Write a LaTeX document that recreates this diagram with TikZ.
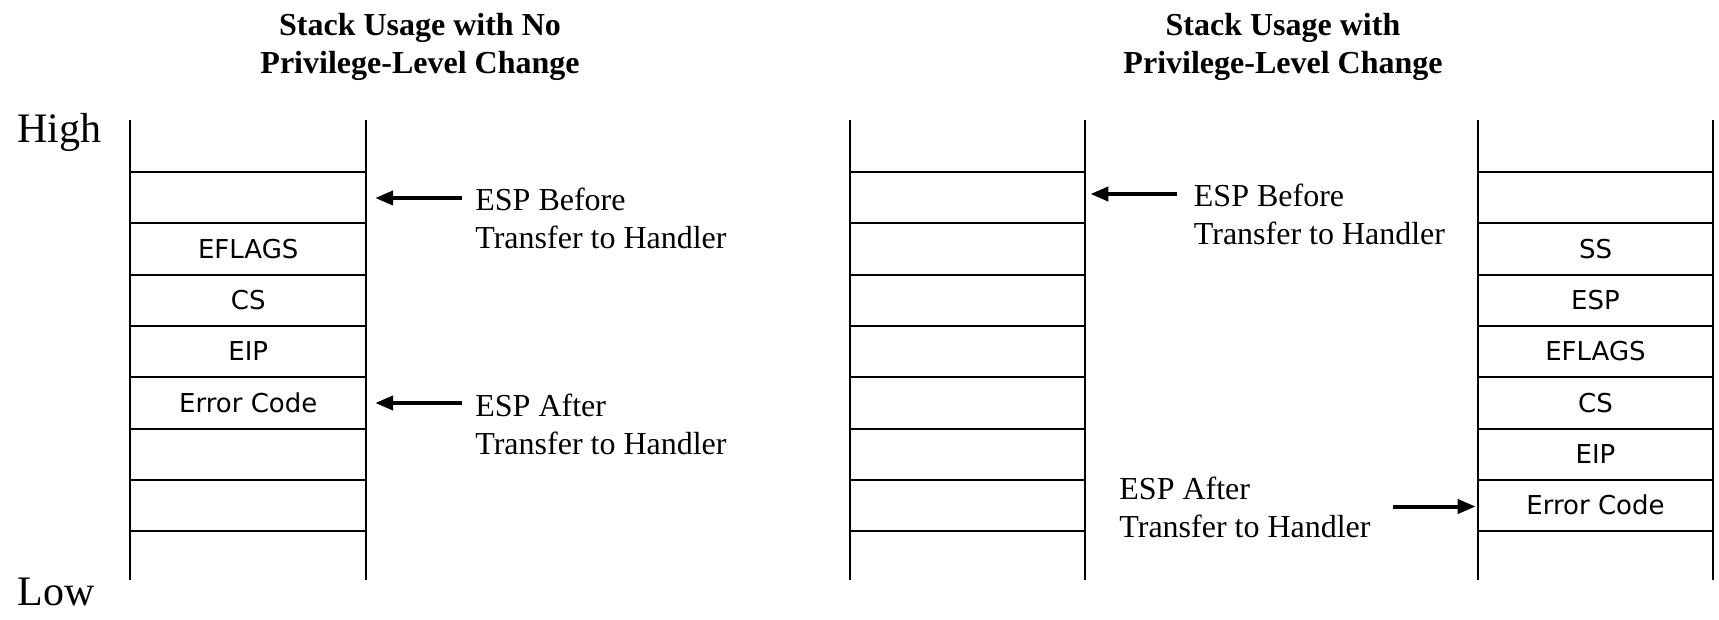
\documentclass[tikz,border=0pt]{standalone}
\usepackage{fontspec}
\setmainfont{Liberation Serif}
\newfontfamily\cellfont{DejaVu Sans}
\usetikzlibrary{arrows.meta}

\tikzset{
  cell/.style={rectangle, inner sep=0pt, minimum width=117.5pt, minimum height=25.65pt,
               font=\cellfont\fontsize{13}{15}\selectfont},
  rule/.style={line width=1pt},
  ptr/.style={line width=2pt, -{Triangle[length=9pt,width=7pt]}},
  title/.style={anchor=base, font=\bfseries\fontsize{16}{19}\selectfont, inner sep=0pt},
  note/.style={anchor=base west, font=\fontsize{16}{19}\selectfont, inner sep=0pt},
  side/.style={anchor=base west, font=\fontsize{21}{25}\selectfont, inner sep=0pt},
}

% draws a stack of nine cells named <prefix>1..<prefix>9 centred at x
\newcommand{\stackcol}[3]{%
  \foreach \i/\t in {#3} {
    \node[cell] (#1\i) at (#2, {171.7+(\i-1.5)*51.3}) {\t};
  }
  \draw[rule] ([yshift=0.15pt]#11.north west) -- ([yshift=1.1pt]#19.south west);
  \draw[rule] ([yshift=0.15pt]#11.north east) -- ([yshift=1.1pt]#19.south east);
  \foreach \i in {1,...,8} {
    \draw[rule] (#1\i.south west) -- (#1\i.south east);
  }
}

\begin{document}
\begin{tikzpicture}[x=0.5pt, y=-0.5pt]
  \useasboundingbox (0,0) rectangle (1719,620);

  % titles
  \node[title] (t1a) at (420,36) {Stack Usage with No};
  \node[title] (t1b) at (420,74) {Privilege-Level Change};
  \node[title] (t2a) at (1283,36) {Stack Usage with};
  \node[title] (t2b) at (1283,74) {Privilege-Level Change};

  % address direction
  \node[side] (high) at (17,143) {High};
  \node[side] (low) at (17,605) {Low};

  % stacks
  \stackcol{L}{248.25}{1/,2/,3/EFLAGS,4/CS,5/EIP,6/Error Code,7/,8/,9/}
  \stackcol{M}{967.5}{1/,2/,3/,4/,5/,6/,7/,8/,9/}
  \stackcol{R}{1595.5}{1/,2/,3/SS,4/ESP,5/EFLAGS,6/CS,7/EIP,8/Error Code,9/}

  % left: stack pointer labels
  \node[note] (lb1) at (475,211) {ESP Before};
  \node[note] (lb2) at (475,249) {Transfer to Handler};
  \node[note] (la1) at (475,416) {ESP After};
  \node[note] (la2) at (475,454) {Transfer to Handler};
  \coordinate (lbt) at (462,198);
  \coordinate (lat) at (462,403);
  \draw[ptr] (lbt) -- ([xshift=4.5pt]L2.east |- lbt);
  \draw[ptr] (lat) -- ([xshift=4.5pt]L6.east |- lat);

  % right: stack pointer labels
  \node[note] (mb1) at (1193.5,207) {ESP Before};
  \node[note] (mb2) at (1193.5,245) {Transfer to Handler};
  \coordinate (mbt) at (1177,194);
  \draw[ptr] (mbt) -- ([xshift=2.5pt]M2.east |- mbt);

  \node[note] (ra1) at (1119,499) {ESP After};
  \node[note] (ra2) at (1119,537) {Transfer to Handler};
  \coordinate (rat) at (1393,506.5);
  \draw[ptr] (rat) -- ([xshift=-1pt]R8.west |- rat);
\end{tikzpicture}
\end{document}
